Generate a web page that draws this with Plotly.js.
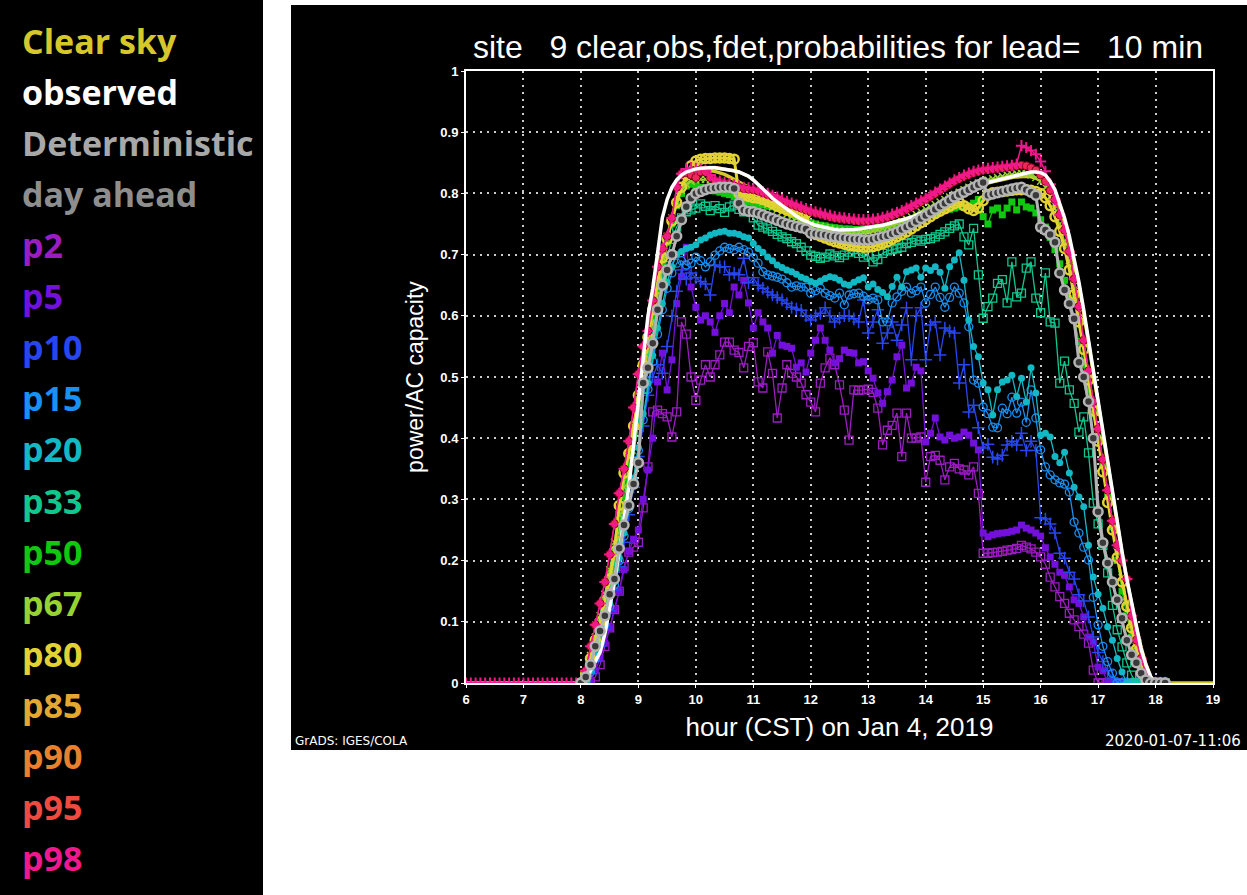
<!DOCTYPE html>
<html><head><meta charset="utf-8">
<script src="https://cdn.plot.ly/plotly-3.0.1.min.js"></script>
<style>
body{margin:0;background:#fff;width:1247px;height:895px;overflow:hidden;position:relative}
#legendPanel{position:absolute;left:0;top:0;width:263px;height:895px;background:#000}
#plotPanel{position:absolute;left:291px;top:5px;width:956px;height:745px;background:#000}
#chart{position:absolute;left:0;top:0;width:1247px;height:895px}
</style></head><body>
<div id="legendPanel"></div><div id="plotPanel"></div><div id="chart"></div>
<script>
// 5-minute power/AC-capacity values, 08:00 .. 18:10 (one row per hour)
const dawnZeros = [0,0,0,0,0,0,0,0,0,0,0,0, 0,0,0,0,0,0,0,0,0,0,0,0];   // 06:00 .. 07:55
const duskZeros = [0,0,0,0,0,0,0,0,0,0];                             // 18:15 .. 19:00

const clearSky = [
 0,0.01,0.03,0.055,0.085,0.12,0.16,0.2,0.245,0.29,0.335,0.385,
 0.435,0.49,0.54,0.59,0.64,0.685,0.725,0.76,0.79,0.81,0.822,0.83,
 0.834,0.836,0.837,0.837,0.836,0.834,0.831,0.827,0.823,0.819,0.815,0.81,
 0.805,0.8,0.795,0.79,0.785,0.78,0.775,0.77,0.766,0.762,0.758,0.754,
 0.75,0.747,0.744,0.742,0.74,0.738,0.737,0.736,0.735,0.735,0.735,0.736,
 0.737,0.738,0.74,0.742,0.744,0.747,0.75,0.753,0.756,0.76,0.764,0.768,
 0.772,0.776,0.78,0.784,0.788,0.792,0.796,0.8,0.803,0.806,0.809,0.812,
 0.815,0.817,0.819,0.821,0.823,0.825,0.826,0.827,0.828,0.828,0.827,0.825,
 0.821,0.815,0.806,0.793,0.775,0.752,0.724,0.69,0.65,0.605,0.555,0.505,
 0.455,0.405,0.355,0.305,0.258,0.212,0.168,0.128,0.09,0.058,0.03,0.01,
 0,0,0];
const observed = [
 0,0.005,0.02,0.035,0.05,0.08,0.12,0.165,0.215,0.27,0.32,0.39,
 0.46,0.53,0.6,0.645,0.7,0.76,0.79,0.81,0.822,0.83,0.835,0.838,
 0.84,0.841,0.842,0.842,0.842,0.841,0.84,0.839,0.837,0.835,0.832,0.828,
 0.822,0.815,0.808,0.8,0.792,0.786,0.78,0.774,0.768,0.763,0.758,0.754,
 0.751,0.748,0.746,0.744,0.742,0.741,0.74,0.74,0.74,0.741,0.742,0.743,
 0.744,0.745,0.746,0.748,0.75,0.752,0.754,0.756,0.758,0.761,0.764,0.767,
 0.77,0.774,0.778,0.782,0.786,0.79,0.794,0.798,0.802,0.806,0.81,0.813,
 0.816,0.818,0.82,0.822,0.824,0.826,0.828,0.83,0.832,0.834,0.835,0.835,
 0.834,0.83,0.82,0.806,0.785,0.76,0.73,0.695,0.655,0.61,0.56,0.51,
 0.46,0.41,0.36,0.31,0.26,0.215,0.17,0.13,0.09,0.055,0.03,0.01,
 0,0,0];
const deterministic = [
 0,0.01,0.03,0.06,0.085,0.11,0.145,0.17,0.22,0.258,0.29,0.325,
 0.36,0.49,0.515,0.555,0.61,0.65,0.675,0.7,0.73,0.757,0.778,0.792,
 0.8,0.803,0.806,0.808,0.809,0.81,0.81,0.81,0.808,0.784,0.773,0.771,
 0.77,0.768,0.765,0.762,0.759,0.756,0.753,0.75,0.748,0.746,0.744,0.742,
 0.735,0.734,0.733,0.732,0.73,0.729,0.728,0.727,0.726,0.725,0.725,0.724,
 0.724,0.725,0.727,0.729,0.731,0.734,0.737,0.741,0.745,0.749,0.754,0.759,
 0.764,0.769,0.774,0.779,0.784,0.789,0.794,0.798,0.802,0.806,0.81,0.814,
 0.818,0.797,0.799,0.801,0.803,0.805,0.807,0.809,0.81,0.806,0.802,0.797,
 0.745,0.74,0.733,0.72,0.67,0.642,0.62,0.595,0.524,0.5,0.46,0.4,
 0.28,0.229,0.196,0.165,0.136,0.106,0.07,0.046,0.033,0.016,0.005,0,
 0,0,0];
const dayAhead = [
 0,0.01,0.03,0.055,0.08,0.11,0.14,0.17,0.215,0.255,0.29,0.33,
 0.38,0.47,0.51,0.55,0.6,0.64,0.67,0.7,0.728,0.752,0.772,0.786,
 0.795,0.8,0.803,0.805,0.806,0.806,0.806,0.805,0.8,0.785,0.775,0.77,
 0.767,0.764,0.761,0.758,0.755,0.752,0.749,0.746,0.743,0.741,0.739,0.737,
 0.733,0.731,0.73,0.729,0.727,0.726,0.725,0.724,0.723,0.722,0.722,0.721,
 0.721,0.722,0.724,0.726,0.728,0.731,0.734,0.738,0.742,0.746,0.751,0.756,
 0.761,0.766,0.771,0.776,0.781,0.786,0.791,0.795,0.799,0.803,0.807,0.81,
 0.808,0.796,0.797,0.799,0.8,0.802,0.804,0.805,0.806,0.803,0.799,0.794,
 0.75,0.738,0.728,0.71,0.67,0.64,0.615,0.585,0.53,0.495,0.455,0.4,
 0.3,0.235,0.198,0.165,0.135,0.105,0.072,0.048,0.032,0.016,0.005,0,
 0,0,0];
const p2 = [
 0,0,0,0.01,0.03,0.06,0.09,0.12,0.15,0.19,0.214,0.222,
 0.23,0.286,0.353,0.443,0.446,0.44,0.435,0.402,0.443,0.59,0.57,0.5,
 0.462,0.495,0.52,0.5,0.52,0.536,0.557,0.557,0.544,0.54,0.515,0.55,
 0.556,0.492,0.482,0.541,0.506,0.433,0.482,0.52,0.506,0.5,0.49,0.471,
 0.459,0.443,0.49,0.515,0.531,0.52,0.487,0.446,0.397,0.479,0.478,0.479,
 0.48,0.475,0.449,0.389,0.413,0.421,0.441,0.37,0.441,0.4,0.4,0.402,
 0.328,0.37,0.372,0.364,0.332,0.353,0.359,0.35,0.348,0.34,0.353,0.31,
 0.212,0.212,0.213,0.214,0.215,0.217,0.218,0.22,0.225,0.222,0.219,0.214,
 0.206,0.194,0.173,0.157,0.141,0.13,0.114,0.103,0.092,0.08,0.065,0.021,
 0,0,0,0,0,0,0,0,0,0,0,0,
 0,0,0];
const p5 = [
 0,0,0.005,0.02,0.04,0.065,0.09,0.12,0.15,0.185,0.215,0.235,
 0.25,0.3,0.348,0.4,0.492,0.539,0.479,0.528,0.62,0.664,0.712,0.647,
 0.614,0.593,0.6,0.59,0.573,0.6,0.62,0.605,0.647,0.634,0.658,0.621,
 0.58,0.605,0.59,0.58,0.539,0.568,0.552,0.55,0.547,0.516,0.523,0.508,
 0.539,0.56,0.58,0.56,0.544,0.523,0.53,0.544,0.54,0.539,0.523,0.525,
 0.51,0.498,0.474,0.457,0.476,0.495,0.533,0.552,0.482,0.49,0.516,0.51,
 0.394,0.408,0.433,0.402,0.397,0.405,0.4,0.402,0.41,0.405,0.392,0.381,
 0.245,0.239,0.242,0.244,0.245,0.246,0.248,0.25,0.258,0.253,0.25,0.245,
 0.24,0.221,0.206,0.194,0.181,0.176,0.157,0.136,0.13,0.108,0.075,0.067,
 0.026,0.02,0,0,0,0,0,0,0,0,0,0,
 0,0,0];
const p10 = [
 0,0.003,0.015,0.035,0.06,0.088,0.118,0.152,0.19,0.23,0.275,0.32,
 0.37,0.42,0.47,0.5,0.52,0.506,0.55,0.6,0.64,0.675,0.66,0.67,
 0.662,0.656,0.652,0.634,0.683,0.68,0.68,0.667,0.67,0.667,0.694,0.654,
 0.662,0.65,0.645,0.639,0.634,0.63,0.626,0.62,0.614,0.611,0.609,0.6,
 0.593,0.6,0.604,0.613,0.6,0.59,0.596,0.6,0.6,0.595,0.59,0.626,
 0.572,0.59,0.61,0.555,0.572,0.59,0.56,0.585,0.613,0.528,0.6,0.613,
 0.528,0.585,0.59,0.536,0.58,0.575,0.572,0.49,0.52,0.443,0.454,0.417,
 0.384,0.39,0.369,0.366,0.372,0.389,0.395,0.389,0.408,0.38,0.395,0.38,
 0.27,0.268,0.26,0.245,0.212,0.204,0.181,0.17,0.144,0.134,0.108,0.075,
 0.05,0.035,0.02,0.008,0,0,0,0,0,0,0,0,
 0,0,0];
const p15 = [
 0,0.004,0.018,0.04,0.065,0.095,0.125,0.16,0.2,0.24,0.285,0.33,
 0.38,0.43,0.48,0.525,0.57,0.61,0.645,0.67,0.686,0.69,0.683,0.686,
 0.696,0.69,0.68,0.688,0.699,0.706,0.712,0.71,0.708,0.712,0.708,0.704,
 0.695,0.686,0.672,0.667,0.665,0.663,0.66,0.654,0.647,0.649,0.647,0.647,
 0.637,0.641,0.645,0.637,0.633,0.629,0.637,0.618,0.634,0.636,0.637,0.632,
 0.626,0.629,0.626,0.59,0.59,0.621,0.631,0.64,0.647,0.637,0.641,0.647,
 0.621,0.635,0.647,0.63,0.614,0.63,0.647,0.637,0.621,0.582,0.495,0.49,
 0.451,0.44,0.418,0.417,0.449,0.44,0.467,0.441,0.459,0.426,0.479,0.433,
 0.381,0.353,0.34,0.332,0.327,0.325,0.312,0.263,0.245,0.222,0.201,0.14,
 0.095,0.06,0.035,0.016,0,0,0,0,0,0,0,0,
 0,0,0];
const p20 = [
 0,0.005,0.02,0.045,0.07,0.1,0.13,0.165,0.205,0.245,0.29,0.335,
 0.385,0.44,0.49,0.535,0.58,0.62,0.655,0.68,0.7,0.705,0.71,0.712,
 0.716,0.724,0.727,0.732,0.735,0.737,0.738,0.735,0.735,0.733,0.729,0.727,
 0.718,0.71,0.704,0.696,0.69,0.683,0.679,0.675,0.672,0.668,0.663,0.66,
 0.656,0.653,0.657,0.661,0.664,0.662,0.658,0.652,0.65,0.655,0.659,0.662,
 0.647,0.652,0.643,0.638,0.631,0.648,0.663,0.647,0.672,0.675,0.678,0.663,
 0.678,0.674,0.68,0.671,0.645,0.68,0.691,0.703,0.658,0.593,0.55,0.533,
 0.49,0.479,0.438,0.479,0.492,0.495,0.503,0.468,0.498,0.459,0.515,0.474,
 0.405,0.408,0.402,0.37,0.36,0.377,0.343,0.32,0.304,0.288,0.225,0.173,
 0.145,0.122,0.092,0.07,0.04,0.018,0,0,0,0,0,0,
 0,0,0];
const p33 = [
 0,0.008,0.03,0.055,0.085,0.115,0.15,0.19,0.235,0.28,0.325,0.375,
 0.425,0.48,0.53,0.575,0.62,0.66,0.695,0.725,0.745,0.76,0.77,0.773,
 0.776,0.783,0.779,0.772,0.78,0.775,0.769,0.778,0.781,0.774,0.77,0.777,
 0.76,0.748,0.745,0.742,0.738,0.733,0.729,0.726,0.721,0.718,0.712,0.706,
 0.699,0.697,0.694,0.696,0.701,0.698,0.695,0.699,0.704,0.708,0.702,0.696,
 0.699,0.688,0.692,0.702,0.706,0.708,0.71,0.712,0.718,0.72,0.724,0.722,
 0.725,0.726,0.729,0.733,0.737,0.743,0.747,0.75,0.729,0.716,0.743,0.667,
 0.596,0.615,0.629,0.653,0.659,0.621,0.688,0.631,0.637,0.678,0.688,0.629,
 0.605,0.67,0.59,0.588,0.49,0.526,0.479,0.457,0.41,0.435,0.376,0.294,
 0.26,0.225,0.18,0.127,0.087,0.059,0.033,0.013,0,0,0,0,
 0,0,0];
const p50 = [
 0,0.012,0.04,0.07,0.1,0.135,0.175,0.215,0.26,0.305,0.355,0.41,
 0.46,0.515,0.56,0.6,0.645,0.685,0.72,0.75,0.78,0.8,0.812,0.815,
 0.812,0.81,0.808,0.806,0.804,0.802,0.8,0.798,0.795,0.792,0.789,0.786,
 0.784,0.783,0.781,0.779,0.778,0.776,0.774,0.77,0.766,0.762,0.758,0.755,
 0.752,0.75,0.748,0.747,0.745,0.744,0.743,0.742,0.742,0.741,0.741,0.742,
 0.742,0.743,0.744,0.745,0.746,0.748,0.75,0.752,0.754,0.755,0.757,0.759,
 0.762,0.765,0.767,0.77,0.772,0.774,0.776,0.778,0.779,0.78,0.784,0.79,
 0.762,0.75,0.773,0.776,0.765,0.776,0.786,0.773,0.786,0.778,0.776,0.768,
 0.757,0.745,0.728,0.708,0.685,0.658,0.628,0.595,0.558,0.52,0.48,0.44,
 0.4,0.355,0.31,0.255,0.2,0.15,0.11,0.075,0.045,0.02,0.005,0,
 0,0,0];
const p67 = [
 0,0.015,0.045,0.075,0.11,0.145,0.185,0.23,0.275,0.32,0.37,0.42,
 0.47,0.525,0.57,0.615,0.66,0.7,0.73,0.76,0.785,0.805,0.815,0.82,
 0.822,0.823,0.823,0.822,0.82,0.818,0.816,0.813,0.81,0.806,0.802,0.798,
 0.794,0.79,0.786,0.782,0.778,0.774,0.77,0.766,0.762,0.759,0.756,0.753,
 0.75,0.748,0.746,0.744,0.742,0.74,0.739,0.738,0.737,0.737,0.737,0.737,
 0.738,0.739,0.741,0.743,0.745,0.748,0.751,0.754,0.758,0.762,0.766,0.77,
 0.774,0.778,0.782,0.786,0.79,0.794,0.798,0.802,0.806,0.81,0.814,0.817,
 0.82,0.822,0.824,0.826,0.828,0.83,0.831,0.832,0.833,0.832,0.83,0.826,
 0.82,0.81,0.795,0.775,0.75,0.722,0.69,0.65,0.605,0.558,0.508,0.458,
 0.408,0.358,0.308,0.26,0.215,0.172,0.132,0.095,0.06,0.032,0.012,0,
 0,0,0];
const p80 = [
 0,0.015,0.04,0.07,0.1,0.135,0.17,0.215,0.29,0.343,0.375,0.42,
 0.47,0.52,0.565,0.61,0.655,0.695,0.725,0.755,0.785,0.81,0.83,0.845,
 0.853,0.856,0.857,0.857,0.858,0.858,0.858,0.857,0.856,0.8,0.797,0.795,
 0.793,0.792,0.79,0.787,0.783,0.779,0.776,0.773,0.771,0.77,0.768,0.767,
 0.736,0.733,0.73,0.727,0.724,0.721,0.719,0.717,0.715,0.714,0.713,0.712,
 0.712,0.713,0.715,0.718,0.721,0.725,0.729,0.733,0.737,0.742,0.747,0.752,
 0.757,0.762,0.767,0.771,0.775,0.779,0.783,0.786,0.78,0.775,0.772,0.776,
 0.788,0.798,0.801,0.802,0.803,0.804,0.805,0.806,0.806,0.806,0.805,0.803,
 0.8,0.793,0.78,0.762,0.738,0.71,0.675,0.635,0.59,0.545,0.495,0.445,
 0.395,0.345,0.295,0.25,0.205,0.165,0.125,0.09,0.055,0.03,0.01,0,
 0,0,0];
const p85 = [
 0,0.004,0.018,0.033,0.048,0.078,0.118,0.163,0.213,0.267,0.318,0.387,
 0.457,0.527,0.597,0.643,0.697,0.757,0.787,0.808,0.82,0.828,0.833,0.836,
 0.838,0.839,0.84,0.84,0.84,0.839,0.838,0.837,0.835,0.833,0.83,0.826,
 0.82,0.813,0.806,0.798,0.79,0.784,0.778,0.772,0.766,0.761,0.756,0.752,
 0.749,0.746,0.744,0.742,0.74,0.739,0.738,0.738,0.738,0.739,0.74,0.741,
 0.742,0.743,0.744,0.746,0.748,0.75,0.752,0.754,0.756,0.759,0.762,0.765,
 0.768,0.772,0.776,0.78,0.784,0.788,0.792,0.796,0.8,0.804,0.808,0.811,
 0.814,0.816,0.818,0.82,0.822,0.824,0.826,0.828,0.83,0.832,0.833,0.833,
 0.832,0.828,0.818,0.804,0.783,0.758,0.728,0.693,0.653,0.608,0.558,0.508,
 0.458,0.408,0.358,0.308,0.258,0.213,0.168,0.128,0.088,0.053,0.028,0.008,
 0,0,0];
const p90 = [
 0,0.006,0.022,0.037,0.052,0.082,0.122,0.167,0.217,0.272,0.322,0.392,
 0.462,0.532,0.602,0.647,0.702,0.762,0.792,0.812,0.824,0.832,0.837,0.84,
 0.842,0.843,0.844,0.844,0.844,0.843,0.842,0.841,0.839,0.837,0.834,0.83,
 0.824,0.817,0.81,0.802,0.794,0.788,0.782,0.776,0.77,0.765,0.76,0.756,
 0.753,0.75,0.748,0.746,0.744,0.743,0.742,0.742,0.742,0.743,0.744,0.745,
 0.746,0.747,0.748,0.75,0.752,0.754,0.756,0.758,0.76,0.763,0.766,0.769,
 0.772,0.776,0.78,0.784,0.788,0.792,0.796,0.8,0.804,0.808,0.812,0.815,
 0.818,0.82,0.822,0.824,0.826,0.828,0.83,0.832,0.834,0.836,0.837,0.837,
 0.836,0.832,0.822,0.808,0.787,0.762,0.732,0.697,0.657,0.612,0.562,0.512,
 0.462,0.412,0.362,0.312,0.262,0.217,0.172,0.132,0.092,0.057,0.032,0.012,
 0,0,0];
const p95 = [
 0,0.02,0.06,0.095,0.13,0.165,0.21,0.26,0.31,0.35,0.395,0.45,
 0.505,0.55,0.575,0.625,0.68,0.71,0.73,0.76,0.81,0.832,0.834,0.83,
 0.826,0.835,0.835,0.826,0.821,0.818,0.816,0.814,0.812,0.81,0.808,0.807,
 0.806,0.804,0.801,0.798,0.795,0.792,0.788,0.785,0.782,0.779,0.776,0.773,
 0.77,0.768,0.766,0.764,0.762,0.76,0.759,0.758,0.757,0.756,0.755,0.755,
 0.755,0.756,0.757,0.759,0.761,0.764,0.767,0.77,0.774,0.778,0.782,0.786,
 0.79,0.795,0.8,0.805,0.81,0.815,0.82,0.824,0.828,0.831,0.834,0.836,
 0.838,0.839,0.84,0.841,0.842,0.843,0.844,0.845,0.846,0.845,0.842,0.838,
 0.83,0.82,0.805,0.79,0.765,0.74,0.705,0.66,0.615,0.56,0.51,0.46,
 0.415,0.365,0.315,0.265,0.225,0.2,0.17,0.11,0.07,0.04,0.015,0,
 0,0,0];
const p98 = [
 0,0.02,0.06,0.095,0.13,0.165,0.21,0.26,0.31,0.35,0.395,0.45,
 0.505,0.55,0.575,0.625,0.68,0.71,0.73,0.76,0.81,0.832,0.84,0.842,
 0.841,0.84,0.838,0.83,0.823,0.82,0.818,0.816,0.814,0.812,0.81,0.809,
 0.808,0.806,0.803,0.8,0.797,0.794,0.79,0.787,0.784,0.781,0.778,0.775,
 0.772,0.77,0.768,0.766,0.764,0.762,0.761,0.76,0.759,0.758,0.757,0.757,
 0.757,0.758,0.759,0.761,0.763,0.766,0.769,0.772,0.776,0.78,0.784,0.788,
 0.792,0.797,0.802,0.807,0.812,0.817,0.822,0.826,0.83,0.833,0.836,0.838,
 0.84,0.841,0.842,0.843,0.844,0.845,0.846,0.848,0.878,0.875,0.87,0.864,
 0.852,0.836,0.815,0.79,0.765,0.74,0.705,0.66,0.615,0.56,0.51,0.46,
 0.415,0.365,0.315,0.265,0.225,0.2,0.17,0.11,0.07,0.04,0.015,0,
 0,0,0];

const legendLabels = ['Clear sky','observed','Deterministic','day ahead','p2','p5','p10','p15',
  'p20','p33','p50','p67','p80','p85','p90','p95','p98'];
const legendColors = ['#d6c82a','#ffffff','#a8a8a8','#8e8e8e','#9c1cc4','#7410dc','#2846f0','#1890f4',
  '#12b8c4','#10c88e','#10c810','#96d232','#e2d232','#e2a832','#e8802e','#f04a40','#f0188c'];
const col = {};
legendLabels.forEach((l, i) => { col[l] = legendColors[i]; });

// sampling grids (hours, CST)
const tDay  = deterministic.map((_, k) => 8 + k / 12);
const tDawn = dawnZeros.map((_, k) => 6 + k / 12);
const tDusk = duskZeros.map((_, k) => 18.25 + k / 12);

function series(y, color, opts) {
  const o = opts || {};
  const tr = {
    type: 'scatter', x: o.x || tDay, y: y, mode: o.symbol ? 'lines+markers' : 'lines',
    line: {color: color, width: o.lw || 1.3},
    hoverinfo: 'skip', showlegend: false
  };
  if (o.symbol) {
    tr.marker = {symbol: o.symbol, size: o.size || 7, color: o.fill || color,
                 line: {color: o.edge || color, width: o.mlw === undefined ? 1.3 : o.mlw}};
  }
  return tr;
}

const traces = [
  series(dayAhead, col['day ahead'], {lw: 2}),
  series(p85, col.p85, {lw: 1.3}),
  series(p90, col.p90, {lw: 1.3}),
  series(dawnZeros.concat(clearSky, duskZeros), col['Clear sky'],
         {x: tDawn.concat(tDay, tDusk), lw: 3.5}),
  series(p2, col.p2, {symbol: 'square-open', size: 8}),
  series(p5, col.p5, {symbol: 'square', size: 7, mlw: 0}),
  series(p10, col.p10, {symbol: 'cross-thin-open', size: 9, mlw: 1.5}),
  series(p15, col.p15, {symbol: 'circle-open', size: 8}),
  series(p20, col.p20, {symbol: 'circle', size: 7, mlw: 0}),
  series(p33, col.p33, {symbol: 'square-open', size: 8}),
  series(p50, col.p50, {symbol: 'square', size: 7, mlw: 0}),
  series(p67, col.p67, {symbol: 'x-thin-open', size: 7, mlw: 1.5}),
  series(p80, col.p80, {symbol: 'circle-open', size: 9, lw: 3, mlw: 2.5}),
  series(p95, '#ee2a58', {symbol: 'circle', size: 8, fill: '#ee2a58', edge: '#8a0022', mlw: 1}),
  series(dawnZeros.concat(p98), col.p98, {x: tDawn.concat(tDay), symbol: 'cross-thin-open', size: 8, mlw: 2, lw: 1.5}),
  series(observed, '#ffffff', {lw: 3.5}),
  series(deterministic, '#b4b4b4', {symbol: 'circle', size: 9, fill: '#3a3a3a', edge: '#b4b4b4', mlw: 2.5, lw: 3})
];

// plot-area geometry in page pixels
const L = 466, R = 1213, T = 71, B = 683;
const px = v => (v - L) / (R - L);
const py = v => (B - v) / (B - T);

const annotations = legendLabels.map((label, i) => ({
  text: label, xref: 'paper', yref: 'paper', x: px(20), y: py(41 + i * 51.06),
  xanchor: 'left', yanchor: 'middle', showarrow: false,
  font: {family: 'Open Sans, Noto Sans, sans-serif', size: 34, weight: 700, color: legendColors[i]}
}));
annotations.push(
  {text: 'GrADS: IGES/COLA', xref: 'paper', yref: 'paper', x: px(293), y: py(741),
   xanchor: 'left', yanchor: 'middle', showarrow: false,
   font: {family: 'DejaVu Sans, sans-serif', size: 12, color: '#ffffff'}},
  {text: '2020-01-07-11:06', xref: 'paper', yref: 'paper', x: px(1243), y: py(741),
   xanchor: 'right', yanchor: 'middle', showarrow: false,
   font: {family: 'DejaVu Sans, sans-serif', size: 15, color: '#ffffff'}}
);

const tickFont = {family: 'Liberation Sans, DejaVu Sans, sans-serif', size: 13, weight: 700, color: '#ffffff'};
const axisCommon = {
  showgrid: true, gridcolor: '#cccccc', griddash: '2px,5px', gridwidth: 2,
  zeroline: false, showline: true, linecolor: '#ffffff', linewidth: 2, mirror: true,
  ticks: 'outside', ticklen: 3, tickcolor: '#ffffff', tickfont: tickFont, fixedrange: true
};

const layout = {
  width: 1247, height: 895,
  margin: {l: L, r: 1247 - R, t: T, b: 895 - B, pad: 0},
  paper_bgcolor: 'rgba(0,0,0,0)', plot_bgcolor: '#000000',
  title: {
    text: 'site\u00a0\u00a0\u00a09 clear,obs,fdet,probabilities for lead=\u00a0\u00a0\u00a010 min',
    font: {family: 'Liberation Sans, DejaVu Sans, sans-serif', size: 32, color: '#ffffff'},
    xref: 'container', yref: 'container', x: 838 / 1247, y: 1 - 47 / 895,
    xanchor: 'center', yanchor: 'middle'
  },
  xaxis: Object.assign({}, axisCommon, {
    range: [6, 19], tick0: 6, dtick: 1,
    title: {text: 'hour (CST) on Jan 4, 2019', standoff: 12,
            font: {family: 'Liberation Sans, DejaVu Sans, sans-serif', size: 26, color: '#ffffff'}}
  }),
  yaxis: Object.assign({}, axisCommon, {
    range: [0, 1], tick0: 0, dtick: 0.1,
    title: {text: 'power/AC capacity', standoff: 10,
            font: {family: 'Liberation Sans, DejaVu Sans, sans-serif', size: 23, color: '#ffffff'}}
  }),
  annotations: annotations
};

Plotly.newPlot('chart', traces, layout, {displayModeBar: false, staticPlot: true});
</script></body></html>
